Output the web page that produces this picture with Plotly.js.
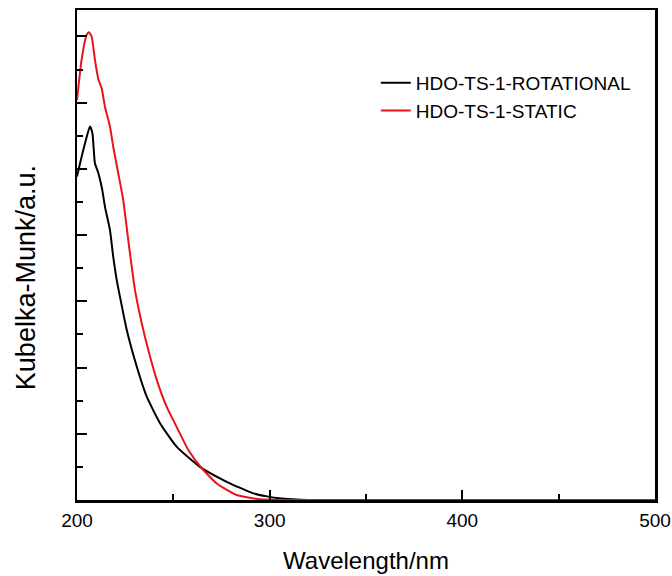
<!DOCTYPE html>
<html>
<head>
<meta charset="utf-8">
<script src="https://cdn.plot.ly/plotly-3.0.1.min.js"></script>
<style>html,body{margin:0;padding:0;background:#fff;}#chart{width:672px;height:576px;}</style>
</head>
<body>
<div id="chart"></div>
<script>
// Wavelength (nm) and Kubelka-Munk values (arbitrary units)
const wlRot = [200, 201.6, 204.2, 206.7, 208, 209.3, 211.1, 213, 214.5, 217.1, 218.8, 220.6, 222.3, 225.8, 231, 236.2, 243.1, 251.7, 263.8, 277.7, 291.5, 298.6, 305, 312, 320, 350, 400, 450, 500];
const kmRot = [9.77, 10.17, 10.78, 11.28, 11.08, 10.17, 9.87, 9.4, 8.86, 8.16, 7.35, 6.65, 6.14, 5.14, 4.03, 3.12, 2.32, 1.61, 1.0, 0.55, 0.2, 0.11, 0.05, 0.02, 0.0, 0.0, 0.0, 0.0, 0.0];

const wlSta = [200, 202.4, 205, 206.2, 207.6, 209.3, 211.1, 212.8, 214.5, 217.1, 218.8, 221.4, 224, 226.6, 230.1, 233.6, 237, 241.4, 246.5, 251.7, 257.8, 264.7, 272.5, 282.9, 295, 310, 350, 400, 450, 500];
const kmSta = [12.08, 13.3, 14.05, 14.13, 14.0, 13.3, 12.7, 12.44, 11.88, 11.28, 10.67, 9.87, 9.06, 7.85, 6.34, 5.34, 4.53, 3.63, 2.82, 2.21, 1.51, 0.96, 0.5, 0.15, 0.02, 0.0, 0.0, 0.0, 0.0, 0.0];

const seriesNames = ["HDO-TS-1-ROTATIONAL", "HDO-TS-1-STATIC"];
const xTickVals = [200, 300, 400, 500];
const xTitle = "Wavelength/nm";
const yTitle = "Kubelka-Munk/a.u.";

const traces = [
  {x: wlRot, y: kmRot, name: seriesNames[0], type: "scatter", mode: "lines",
   line: {color: "#000000", width: 2, shape: "spline", smoothing: 0.5}},
  {x: wlSta, y: kmSta, name: seriesNames[1], type: "scatter", mode: "lines",
   line: {color: "#e8141c", width: 2, shape: "spline", smoothing: 0.5}}
];

const layout = {
  width: 672, height: 576,
  margin: {l: 77, r: 17, t: 10, b: 76},
  paper_bgcolor: "#fff", plot_bgcolor: "#fff",
  font: {family: "Liberation Sans, Arial, sans-serif", color: "#000"},
  showlegend: true,
  legend: {x: 0.517, y: 0.89, xanchor: "left", yanchor: "top", bgcolor: "rgba(0,0,0,0)",
           font: {size: 19, color: "#000"}, tracegroupgap: 0},
  xaxis: {
    range: [200, 500], tickvals: xTickVals, ticks: "inside", ticklen: 10, tickwidth: 2, tickcolor: "#000",
    minor: {dtick: 50, ticks: "inside", ticklen: 6, tickwidth: 2, tickcolor: "#000"},
    showline: true, linewidth: 2.5, linecolor: "#000", mirror: true, showgrid: false, zeroline: false,
    tickfont: {size: 19}, ticklabeloverflow: "allow", ticklabelstandoff: 2,
    title: {text: xTitle, font: {size: 24}, standoff: 22}
  },
  yaxis: {
    range: [0, 14.8], dtick: 2, ticks: "inside", ticklen: 10, tickwidth: 2, tickcolor: "#000",
    minor: {dtick: 1, ticks: "inside", ticklen: 6, tickwidth: 2, tickcolor: "#000"},
    showticklabels: false,
    showline: true, linewidth: 2.5, linecolor: "#000", mirror: true, showgrid: false, zeroline: false
  },
  annotations: [
    {text: yTitle, xref: "paper", yref: "paper", x: -0.088, y: 0.453, xanchor: "center", yanchor: "middle",
     textangle: -90, showarrow: false, font: {size: 27, color: "#000"}}
  ]
};

Plotly.newPlot("chart", traces, layout, {staticPlot: true, displayModeBar: false});
</script>
</body>
</html>
